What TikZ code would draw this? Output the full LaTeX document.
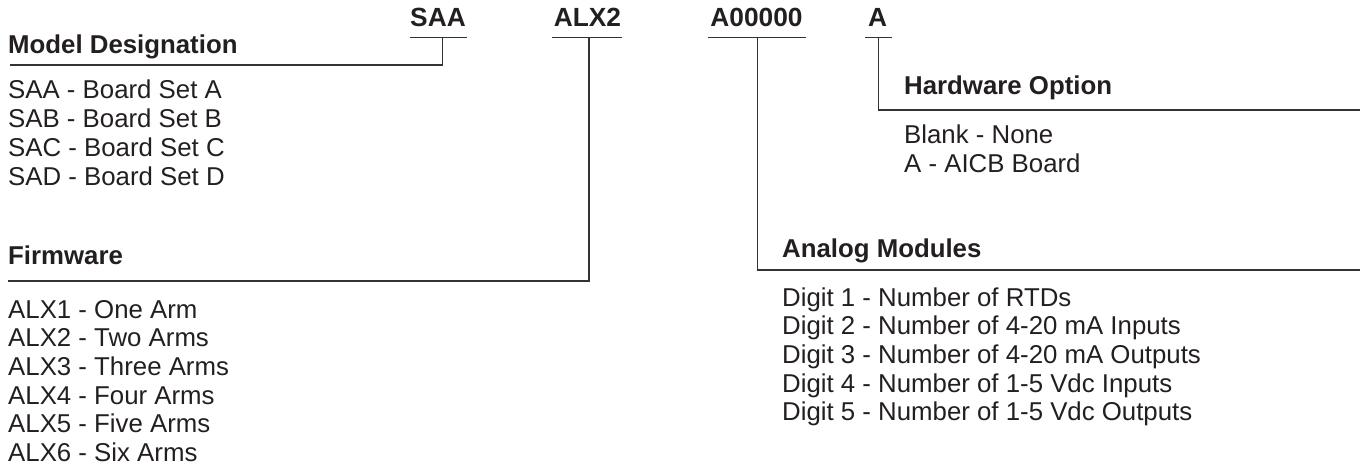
\documentclass[tikz,border=0pt]{standalone}
\usepackage{fontspec}
\setmainfont{Liberation Sans}
\definecolor{ink}{HTML}{231F20}
\definecolor{rulec}{HTML}{333333}
\begin{document}
\begin{tikzpicture}[x=1pt,y=-1pt,
  txt/.style={anchor=base west, inner sep=0pt, text=ink, font=\fontsize{25.8}{28}\selectfont},
  head/.style={anchor=base west, inner sep=0pt, text=ink, font=\fontsize{25.8}{28}\selectfont\bfseries},
  code/.style={anchor=base, inner sep=0pt, text=ink, font=\fontsize{26.3}{28}\selectfont\bfseries},
  rule/.style={draw=rulec, line width=1.4pt}]
\useasboundingbox (0,0) rectangle (1360,465);

% codes at top
\node[code] (cSAA) at (438,27) {SAA};
\node[code] (cALX) at (587.5,27) {ALX2};
\node[code] (cAM) at (756.5,27) {A00000};
\node[code] (cA) at (877.5,27) {A};

% underline coordinates
\coordinate (uSAAl) at (410,37.5);  \coordinate (uSAAr) at (467,37.5);
\coordinate (uALXl) at (552,37.5);  \coordinate (uALXr) at (622,37.5);
\coordinate (uAMl) at (708,37.5);   \coordinate (uAMr) at (806,37.5);
\coordinate (uAl) at (865,37.5);    \coordinate (uAr) at (892,37.5);

\coordinate (tSAA) at (442.7,37.5); \coordinate (kSAA) at (442.7,65);  \coordinate (eSAA) at (10,65);
\coordinate (tALX) at (589,37.5);   \coordinate (kALX) at (589,281);   \coordinate (eALX) at (8,281);
\coordinate (tAM) at (757.7,37.5);  \coordinate (kAM) at (757.7,270); \coordinate (eAM) at (1360,270);
\coordinate (tA) at (878.3,37.5);   \coordinate (kA) at (878.3,110);   \coordinate (eA) at (1360,110);

\draw[rule] (uSAAl) -- (uSAAr);
\draw[rule] (uALXl) -- (uALXr);
\draw[rule] (uAMl) -- (uAMr);
\draw[rule] (uAl) -- (uAr);

\draw[rule] (tSAA) -- (kSAA) -- (eSAA);
\draw[rule] (tALX) -- (kALX) -- (eALX);
\draw[rule] (tAM) -- (kAM) -- (eAM);
\draw[rule] (tA) -- (kA) -- (eA);

% headings
\node[head] (hModel) at (8,53.5) {Model Designation};
\node[head] (hFirm) at (8,265) {Firmware};
\node[head] (hAnalog) at (782,258) {Analog Modules};
\node[head] (hHW) at (904,95) {Hardware Option};

% lists
\foreach \t [count=\i] in {SAA - Board Set A, SAB - Board Set B, SAC - Board Set C, SAD - Board Set D}
  \node[txt] (m\i) at (8,{99+28.7*(\i-1)}) {\t};
\foreach \t [count=\i] in {ALX1 - One Arm, ALX2 - Two Arms, ALX3 - Three Arms, ALX4 - Four Arms, ALX5 - Five Arms, ALX6 - Six Arms}
  \node[txt] (f\i) at (8,{318+28.7*(\i-1)}) {\t};
\foreach \t [count=\i] in {Digit 1 - Number of RTDs, Digit 2 - Number of 4-20 mA Inputs, Digit 3 - Number of 4-20 mA Outputs, Digit 4 - Number of 1-5 Vdc Inputs, Digit 5 - Number of 1-5 Vdc Outputs}
  \node[txt] (d\i) at (782,{306+28.7*(\i-1)}) {\t};
\foreach \t [count=\i] in {Blank - None, A - AICB Board}
  \node[txt] (o\i) at (904,{144+28.7*(\i-1)}) {\t};
\end{tikzpicture}
\end{document}
